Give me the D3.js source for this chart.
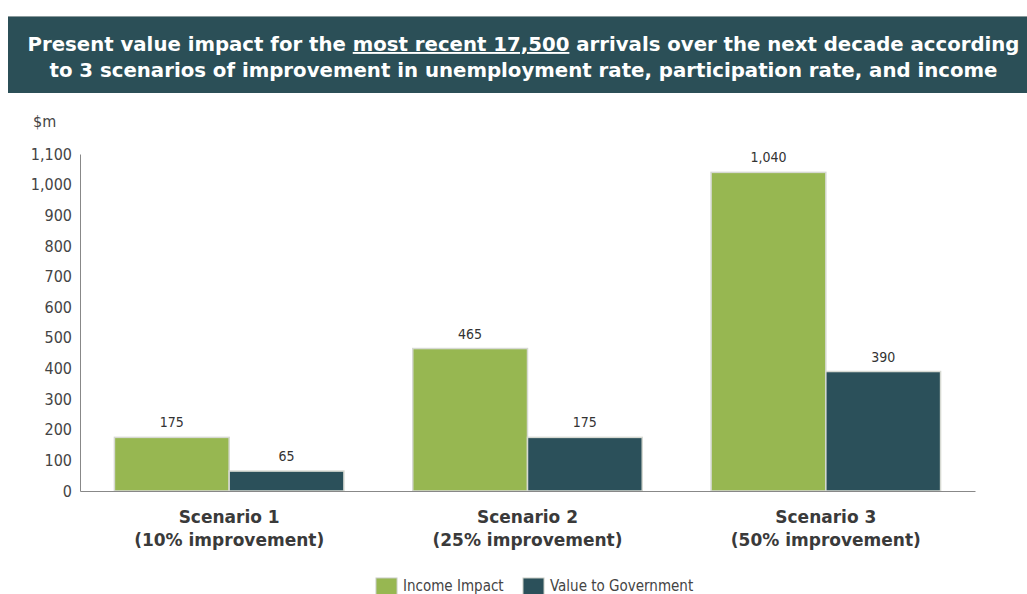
<!DOCTYPE html>
<html><head><meta charset="utf-8">
<script src="https://cdn.jsdelivr.net/npm/d3@7"></script>
<style>body{margin:0;background:#fff}svg{display:block}</style>
</head><body>
<svg id="c" width="1027" height="594"></svg>
<script>
const categories = ["Scenario 1", "Scenario 2", "Scenario 3"];
const subLabels = ["(10% improvement)", "(25% improvement)", "(50% improvement)"];
const seriesNames = ["Income Impact", "Value to Government"];
const incomeImpact = [175, 465, 1040];
const valueToGov = [65, 175, 390];
const yTicks = [0,100,200,300,400,500,600,700,800,900,1000,1100];
const colors = ["#97b751", "#2b505a"];

(function(){
const svg = d3.select("#c");
const W = 1027, H = 594;
const mLeft = 80, mRight = 975, mTop = 154, mBottom = 491;
const cond = "'DejaVu Sans Condensed', 'DejaVu Sans', sans-serif";

// Title banner
svg.append("rect").attr("x",8).attr("y",16).attr("width",W-8).attr("height",77).attr("fill","#2b4f57");
svg.append("line").attr("x1",8).attr("x2",W).attr("y1",16.5).attr("y2",16.5).attr("stroke","#8a9a9c").attr("stroke-width",1);
const t1 = svg.append("text").attr("x",W/2+10).attr("y",51).attr("text-anchor","middle")
  .attr("fill","#fff").attr("font-family","DejaVu Sans").attr("font-weight","bold").attr("font-size",19)
  .attr("textLength",992).attr("lengthAdjust","spacingAndGlyphs");
t1.append("tspan").text("Present value impact for the ");
t1.append("tspan").attr("text-decoration","underline").text("most recent 17,500");
t1.append("tspan").text(" arrivals over the next decade according");
svg.append("text").attr("x",W/2+10).attr("y",77).attr("text-anchor","middle")
  .attr("fill","#fff").attr("font-family","DejaVu Sans").attr("font-weight","bold").attr("font-size",19)
  .attr("textLength",948).attr("lengthAdjust","spacingAndGlyphs")
  .text("to 3 scenarios of improvement in unemployment rate, participation rate, and income");

const y = d3.scaleLinear().domain([0,1100]).range([mBottom, mTop]);
const x0 = d3.scaleBand().domain(categories).range([mLeft, mRight]);
const x1 = d3.scaleBand().domain(seriesNames).range([0, x0.bandwidth()]).paddingOuter(0.3);

// y axis
const yAxis = svg.append("g").attr("transform",`translate(${mLeft},0)`)
  .call(d3.axisLeft(y).tickValues(yTicks).tickFormat(d3.format(",")).tickSize(0).tickPadding(8));
yAxis.select(".domain").attr("stroke","#888");
yAxis.selectAll("text").attr("font-family",cond).attr("font-size",16).attr("fill","#444");

svg.append("text").attr("x",33).attr("y",127).attr("font-family",cond).attr("font-size",16).attr("fill","#444").text("$m");

// bars
const data = categories.map((c,i)=>({cat:c, vals:[{s:seriesNames[0],v:incomeImpact[i],c:colors[0]},{s:seriesNames[1],v:valueToGov[i],c:colors[1]}]}));
const g = svg.selectAll("g.grp").data(data).join("g").attr("class","grp")
  .attr("transform",d=>`translate(${x0(d.cat)},0)`);
g.selectAll("rect").data(d=>d.vals).join("rect")
  .attr("x",d=>x1(d.s)).attr("width",x1.bandwidth())
  .attr("y",d=>y(d.v)).attr("height",d=>y(0)-y(d.v))
  .attr("fill",d=>d.c).attr("stroke","#d6d9d2").attr("stroke-width",1.5);
g.selectAll("text.val").data(d=>d.vals).join("text").attr("class","val")
  .attr("x",d=>x1(d.s)+x1.bandwidth()/2).attr("y",d=>y(d.v)-10)
  .attr("text-anchor","middle").attr("font-family",cond).attr("font-size",14).attr("fill","#333")
  .text(d=>d3.format(",")(d.v));

// x axis
const xAxis = svg.append("g").attr("transform",`translate(0,${mBottom})`)
  .call(d3.axisBottom(x0).tickSize(0).tickFormat(""));
xAxis.select(".domain").attr("stroke","#888");

categories.forEach((c,i)=>{
  const cx = x0(c)+x0.bandwidth()/2;
  svg.append("text").attr("x",cx).attr("y",523).attr("text-anchor","middle")
    .attr("font-family","DejaVu Sans").attr("font-weight","bold").attr("font-size",17).attr("fill","#3a3a3a").text(c);
  svg.append("text").attr("x",cx).attr("y",546).attr("text-anchor","middle")
    .attr("font-family","DejaVu Sans").attr("font-weight","bold").attr("font-size",17).attr("fill","#3a3a3a").text(subLabels[i]);
});

// legend
const legX = [376, 523];
seriesNames.forEach((s,i)=>{
  svg.append("rect").attr("x",legX[i]).attr("y",578).attr("width",21).attr("height",18)
    .attr("fill",colors[i]).attr("stroke","#c8ccc4").attr("stroke-width",1);
  svg.append("text").attr("x",legX[i]+27).attr("y",591).attr("font-family",cond).attr("font-size",15).attr("fill","#444").text(s);
});
})();
</script>
</body></html>
